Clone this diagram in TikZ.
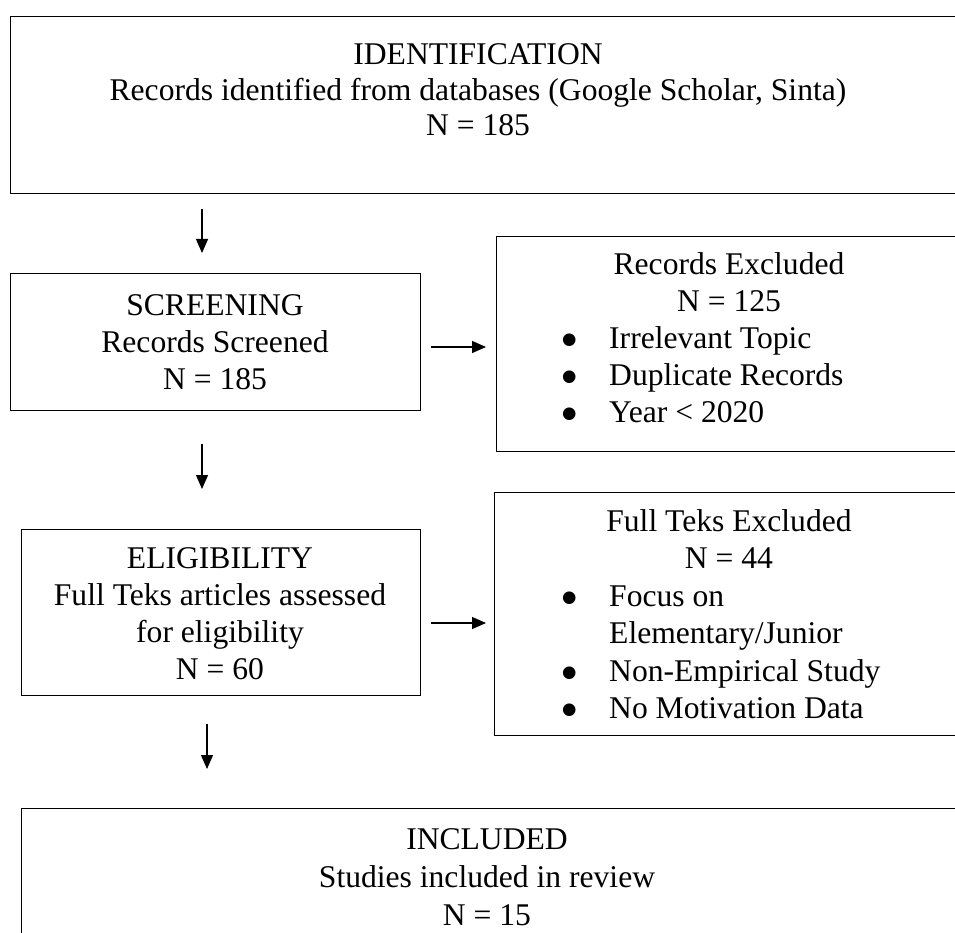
\documentclass[tikz,border=0pt]{standalone}
\usepackage{fontspec}
\setmainfont{Liberation Serif}
\newfontfamily\symfont{DejaVu Sans}
\usetikzlibrary{arrows.meta}
\newcommand{\bigbul}{\makebox[47pt][l]{\raisebox{4pt}{\symfont\fontsize{16.5}{16.5}\selectfont ●}}}
\newcommand{\nobul}{\hspace*{47pt}}
\begin{document}
\begin{tikzpicture}[x=1pt,y=1pt,
  box/.style={draw, line width=1.3pt, inner sep=0pt, anchor=north west},
  txt/.style={anchor=base, inner sep=0pt, font=\fontsize{31.6}{37}\selectfont},
  ltxt/.style={txt, anchor=base west},
  arr/.style={line width=1.2pt, -{Triangle[length=14pt,width=12pt]}}]
\useasboundingbox (0,0) rectangle (955,-933);
\clip (0,0) rectangle (955,-933);
% boxes
\node[box, minimum width=990pt, minimum height=177pt] (ident) at (10,-16) {};
\node[box, minimum width=410pt, minimum height=137pt] (screen) at (10,-273) {};
\node[box, minimum width=500pt, minimum height=215pt] (recex) at (496,-236) {};
\node[box, minimum width=399pt, minimum height=166pt] (elig) at (21,-529) {};
\node[box, minimum width=500pt, minimum height=243pt] (ftex) at (494,-492) {};
\node[box, minimum width=990pt, minimum height=200pt] (incl) at (21,-808) {};
% identification text
\node[txt] (t1) at (478,-65) {IDENTIFICATION};
\node[txt] (t2) at (478,-101) {Records identified from databases (Google Scholar, Sinta)};
\node[txt] (t3) at (478,-136) {N = 185};
% screening text
\node[txt] (s1) at (215,-315) {SCREENING};
\node[txt] (s2) at (215,-352) {Records Screened};
\node[txt] (s3) at (215,-389) {N = 185};
% records excluded
\node[txt] (r1) at (729,-274) {Records Excluded};
\node[txt] (r2) at (729,-311) {N = 125};
\node[ltxt] (r3) at (562,-348) {\bigbul Irrelevant Topic};
\node[ltxt] (r4) at (562,-385) {\bigbul Duplicate Records};
\node[ltxt] (r5) at (562,-422) {\bigbul Year < 2020};
% eligibility
\node[txt] (e1) at (220,-568) {ELIGIBILITY};
\node[txt] (e2) at (220,-605) {Full Teks articles assessed};
\node[txt] (e3) at (220,-642) {for eligibility};
\node[txt] (e4) at (220,-679) {N = 60};
% full text excluded
\node[txt] (f1) at (729,-531) {Full Teks Excluded};
\node[txt] (f2) at (729,-568) {N = 44};
\node[ltxt] (f3) at (562,-606) {\bigbul Focus on};
\node[ltxt] (f4) at (562,-643) {\nobul Elementary/Junior};
\node[ltxt] (f5) at (562,-681) {\bigbul Non-Empirical Study};
\node[ltxt] (f6) at (562,-718) {\bigbul No Motivation Data};
% included
\node[txt] (i1) at (487,-849) {INCLUDED};
\node[txt] (i2) at (487,-887) {Studies included in review};
\node[txt] (i3) at (487,-925) {N = 15};
% arrow end points
\coordinate (a1s) at (202,-209);
\coordinate (a1e) at (202,-253);
\coordinate (a2s) at (202,-444);
\coordinate (a2e) at (202,-489);
\coordinate (a3s) at (207,-724);
\coordinate (a3e) at (207,-769);
\coordinate (h1s) at (431,-347);
\coordinate (h1e) at (486,-347);
\coordinate (h2s) at (431,-623);
\coordinate (h2e) at (486,-623);
\draw[arr] (a1s) -- (a1e);
\draw[arr] (a2s) -- (a2e);
\draw[arr] (a3s) -- (a3e);
\draw[arr] (h1s) -- (h1e);
\draw[arr] (h2s) -- (h2e);
\end{tikzpicture}
\end{document}
